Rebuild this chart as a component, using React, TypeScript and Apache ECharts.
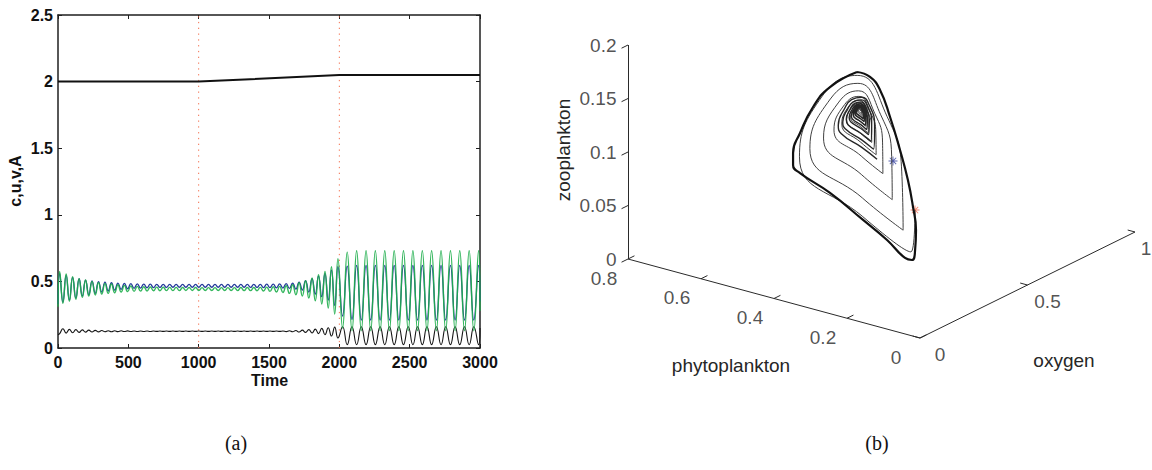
import React, { useEffect, useRef } from "react";
import * as echarts from "echarts";

// ---------------- Panel (a): time series (extrema) ----------------
const extremaTimes = [
  0, 12, 35, 58, 81, 104, 127, 150, 173, 196, 219,
  242, 265, 288, 311, 334, 357, 380, 403, 426, 449,
  472, 495, 518, 541, 564, 587, 610, 633, 656, 679,
  702, 725, 748, 771, 794, 817, 840, 863, 886, 909,
  932, 955, 978, 1001, 1024, 1047, 1070, 1093, 1116, 1139,
  1162, 1185, 1208, 1231, 1254, 1277, 1300, 1323, 1346, 1369,
  1392, 1415, 1438, 1461, 1484, 1507, 1530, 1553, 1576, 1599,
  1622, 1645, 1668, 1691, 1714, 1737, 1760, 1783, 1806, 1829,
  1852, 1875, 1898, 1921, 1944, 1967, 1990,
  2023, 2056, 2090, 2123, 2156, 2190, 2223, 2256, 2290, 2323,
  2356, 2390, 2423, 2456, 2490, 2523, 2556, 2590, 2623, 2656,
  2690, 2723, 2756, 2790, 2823, 2856, 2890, 2923, 2956, 2990,
  3000,
];

// phytoplankton u (green)
const phytoU = [
  0.31, 0.575, 0.335, 0.555, 0.35, 0.535, 0.365, 0.52, 0.38, 0.51, 0.39,
  0.5, 0.398, 0.492, 0.405, 0.485, 0.41, 0.48, 0.415, 0.475, 0.42,
  0.47, 0.423, 0.466, 0.425, 0.463, 0.427, 0.46, 0.428, 0.458, 0.43,
  0.457, 0.43, 0.456, 0.431, 0.455, 0.431, 0.455, 0.431, 0.454, 0.432,
  0.454, 0.432, 0.454, 0.432, 0.453, 0.432, 0.453, 0.432, 0.453, 0.432,
  0.453, 0.432, 0.453, 0.432, 0.453, 0.431, 0.454, 0.431, 0.454, 0.431,
  0.454, 0.43, 0.455, 0.428, 0.457, 0.425, 0.46, 0.42, 0.463, 0.417,
  0.467, 0.41, 0.475, 0.4, 0.49, 0.39, 0.505, 0.375, 0.525, 0.355,
  0.55, 0.33, 0.575, 0.3, 0.61, 0.255, 0.67,
  0.15, 0.72, 0.13, 0.73, 0.13, 0.73, 0.13, 0.73, 0.13, 0.73,
  0.13, 0.73, 0.13, 0.73, 0.13, 0.73, 0.13, 0.73, 0.13, 0.73,
  0.13, 0.73, 0.13, 0.73, 0.13, 0.73, 0.13, 0.73, 0.13, 0.73,
  0.28,
];

// oxygen c (blue)
const oxygenC = [
  0.33, 0.56, 0.345, 0.545, 0.36, 0.53, 0.375, 0.52, 0.39, 0.51, 0.4,
  0.503, 0.41, 0.498, 0.42, 0.494, 0.428, 0.49, 0.434, 0.487, 0.44,
  0.485, 0.445, 0.483, 0.448, 0.482, 0.45, 0.48, 0.452, 0.479, 0.454,
  0.478, 0.455, 0.478, 0.455, 0.477, 0.456, 0.477, 0.456, 0.477, 0.456,
  0.477, 0.456, 0.477, 0.456, 0.477, 0.456, 0.477, 0.456, 0.477, 0.456,
  0.477, 0.456, 0.477, 0.456, 0.477, 0.456, 0.477, 0.456, 0.477, 0.455,
  0.478, 0.455, 0.478, 0.454, 0.479, 0.453, 0.48, 0.452, 0.481, 0.45,
  0.483, 0.447, 0.487, 0.442, 0.495, 0.435, 0.505, 0.42, 0.52, 0.405,
  0.54, 0.385, 0.56, 0.36, 0.585, 0.32, 0.61,
  0.24, 0.615, 0.215, 0.62, 0.21, 0.62, 0.21, 0.62, 0.21, 0.62,
  0.21, 0.62, 0.21, 0.62, 0.21, 0.62, 0.21, 0.62, 0.21, 0.62,
  0.21, 0.62, 0.21, 0.62, 0.21, 0.62, 0.21, 0.62, 0.21, 0.62,
  0.35,
];

// zooplankton v (black)
const zooV = [
  0.1, 0.108, 0.145, 0.112, 0.14, 0.115, 0.138, 0.117, 0.136, 0.119, 0.134,
  0.12, 0.132, 0.121, 0.131, 0.122, 0.13, 0.1225, 0.1295, 0.123, 0.129,
  0.1235, 0.1285, 0.124, 0.128, 0.124, 0.128, 0.1242, 0.1278, 0.1244, 0.1276,
  0.1245, 0.1275, 0.1245, 0.1275, 0.1245, 0.1275, 0.1245, 0.1275, 0.1245, 0.1275,
  0.1245, 0.1275, 0.1245, 0.1275, 0.1245, 0.1275, 0.1245, 0.1275, 0.1245, 0.1275,
  0.1245, 0.1275, 0.1245, 0.1275, 0.1245, 0.1275, 0.1245, 0.1275, 0.1245, 0.1275,
  0.1245, 0.1275, 0.1245, 0.1275, 0.1245, 0.1275, 0.1245, 0.1275, 0.1245, 0.1275,
  0.123, 0.129, 0.122, 0.131, 0.12, 0.134, 0.117, 0.138, 0.113, 0.142,
  0.108, 0.147, 0.1, 0.152, 0.09, 0.157, 0.075,
  0.16, 0.025, 0.16, 0.025, 0.16, 0.025, 0.16, 0.025, 0.16, 0.025,
  0.16, 0.025, 0.16, 0.025, 0.16, 0.025, 0.16, 0.025, 0.16, 0.025,
  0.16, 0.025, 0.16, 0.025, 0.16, 0.025, 0.16, 0.025, 0.16, 0.025,
  0.15,
];

// parameter A
const aTimes = [0, 1000, 2000, 3000];
const aValues = [2.0, 2.0, 2.05, 2.05];
const switchTimes = [1000, 2000];

// ---------------- Panel (b): 3-D phase portrait ----------------
const phytoTicks = [0, 0.2, 0.4, 0.6, 0.8];
const oxygenTicks = [0, 0.5, 1];
const zooTicks = [0, 0.05, 0.1, 0.15, 0.2];

// outer (thick) loop
const outerPhyto = [0.45, 0.395, 0.3525, 0.31, 0.268, 0.234, 0.2127, 0.2, 0.204, 0.217, 0.2466, 0.323, 0.4246, 0.5644, 0.6915, 0.7212, 0.7212, 0.6915, 0.6364, 0.5644, 0.45];
const outerOxygen = [0.471, 0.438, 0.4125, 0.387, 0.362, 0.341, 0.3286, 0.321, 0.3236, 0.331, 0.349, 0.395, 0.456, 0.5396, 0.616, 0.634, 0.634, 0.616, 0.583, 0.5396, 0.471];
const outerZoo = [0.1604, 0.1641, 0.1584, 0.1396, 0.1151, 0.0922, 0.0703, 0.0507, 0.0314, 0.0201, 0.0175, 0.0227, 0.026, 0.03, 0.0293, 0.0323, 0.0436, 0.0667, 0.0994, 0.129, 0.1604];

// thin spiral converging to the focus
const spiralPhyto = [
  0.2042,
  0.2214, 0.4254, 0.6937, 0.5968, 0.449, 0.3227, 0.2604,
  0.2544, 0.4274, 0.6495, 0.5628, 0.4462, 0.3494, 0.303,
  0.3006, 0.4299, 0.5916, 0.5271, 0.4436, 0.3748, 0.3416,
  0.3402, 0.432, 0.5474, 0.5016, 0.4417, 0.3926, 0.37,
  0.3688, 0.4335, 0.5143, 0.4829, 0.4404, 0.4053, 0.3883,
  0.3875, 0.4344, 0.4936, 0.4702, 0.4394, 0.4141, 0.4025,
  0.4018, 0.4352, 0.477, 0.4605, 0.4387, 0.4209, 0.4126,
  0.4121, 0.4357, 0.4654, 0.4537, 0.4382, 0.4256, 0.4195,
  0.4194, 0.4361, 0.4569, 0.4487, 0.4379, 0.429, 0.4248,
  0.4247, 0.4364, 0.4508, 0.4452, 0.4376, 0.4314, 0.4285,
  0.4284, 0.4366, 0.4467, 0.4426, 0.4374, 0.4332, 0.4313,
  0.4313, 0.4367, 0.4431, 0.4404, 0.4372, 0.435, 0.4342,
  0.437,
];
const spiralOxygen = [
  0.3235,
  0.3336, 0.456, 0.617, 0.5589, 0.4702, 0.3944, 0.357,
  0.3534, 0.4572, 0.5905, 0.5385, 0.4685, 0.4104, 0.3826,
  0.3812, 0.4588, 0.5557, 0.5171, 0.467, 0.4257, 0.4058,
  0.4049, 0.46, 0.5292, 0.5018, 0.4658, 0.4363, 0.4228,
  0.4221, 0.4609, 0.5094, 0.4905, 0.465, 0.4439, 0.4338,
  0.4333, 0.4615, 0.4969, 0.4829, 0.4644, 0.4493, 0.4423,
  0.4419, 0.4619, 0.487, 0.4771, 0.464, 0.4533, 0.4484,
  0.4481, 0.4622, 0.4801, 0.473, 0.4637, 0.4561, 0.4525,
  0.4524, 0.4625, 0.4749, 0.47, 0.4635, 0.4582, 0.4557,
  0.4556, 0.4626, 0.4713, 0.4679, 0.4634, 0.4596, 0.4579,
  0.4579, 0.4627, 0.4688, 0.4664, 0.4632, 0.4607, 0.4596,
  0.4596, 0.4628, 0.4666, 0.465, 0.4631, 0.4618, 0.4613,
  0.463,
];
const spiralZoo = [
  0.0687,
  0.027, 0.029, 0.0442, 0.1157, 0.1574, 0.1383, 0.0966,
  0.0423, 0.0462, 0.0585, 0.1181, 0.1504, 0.1357, 0.1039,
  0.0638, 0.0674, 0.0772, 0.1206, 0.1438, 0.1332, 0.1106,
  0.0821, 0.0846, 0.0914, 0.1224, 0.1389, 0.1314, 0.1155,
  0.0954, 0.0972, 0.1021, 0.1238, 0.1356, 0.1302, 0.1186,
  0.1041, 0.1053, 0.1088, 0.1247, 0.1331, 0.1293, 0.1211,
  0.1107, 0.1117, 0.1141, 0.1253, 0.1314, 0.1286, 0.1228,
  0.1155, 0.1161, 0.1178, 0.1258, 0.1301, 0.1281, 0.124,
  0.1188, 0.1193, 0.1206, 0.1262, 0.1292, 0.1278, 0.1249,
  0.1213, 0.1217, 0.1226, 0.1264, 0.1285, 0.1276, 0.1255,
  0.123, 0.1233, 0.1239, 0.1266, 0.128, 0.1274, 0.126,
  0.1244, 0.1246, 0.125, 0.1268, 0.1276, 0.1272, 0.1265,
  0.127,
];

// dense rounded loops of the dark core around the focus
const corePhyto = [
  0.365, 0.4298, 0.5163, 0.5292, 0.5018, 0.473, 0.4298, 0.3967, 0.3751,
  0.3798, 0.4313, 0.4999, 0.5102, 0.4885, 0.4656, 0.4313, 0.405, 0.3878,
  0.3914, 0.4324, 0.4871, 0.4953, 0.478, 0.4598, 0.4324, 0.4115, 0.3978,
  0.401, 0.4334, 0.4766, 0.4831, 0.4694, 0.455, 0.4334, 0.4168, 0.406,
  0.4084, 0.4341, 0.4685, 0.4736, 0.4627, 0.4513, 0.4341, 0.421, 0.4124,
  0.4148, 0.4348, 0.4615, 0.4655, 0.457, 0.4481, 0.4348, 0.4246, 0.4179,
  0.4201, 0.4353, 0.4557, 0.4587, 0.4523, 0.4455, 0.4353, 0.4275, 0.4224,
  0.4243, 0.4357, 0.451, 0.4533, 0.4484, 0.4434, 0.4357, 0.4299, 0.4261,
];
const coreOxygen = [
  0.4198, 0.4587, 0.5106, 0.5183, 0.5019, 0.4846, 0.4587, 0.4388, 0.4258,
  0.4287, 0.4596, 0.5008, 0.5069, 0.4939, 0.4802, 0.4596, 0.4438, 0.4335,
  0.4357, 0.4603, 0.4931, 0.498, 0.4876, 0.4767, 0.4603, 0.4477, 0.4395,
  0.4414, 0.4608, 0.4868, 0.4907, 0.4825, 0.4738, 0.4608, 0.4509, 0.4444,
  0.4458, 0.4613, 0.4819, 0.485, 0.4785, 0.4716, 0.4613, 0.4534, 0.4482,
  0.4497, 0.4617, 0.4777, 0.4801, 0.475, 0.4697, 0.4617, 0.4555, 0.4515,
  0.4528, 0.462, 0.4742, 0.476, 0.4722, 0.4681, 0.462, 0.4573, 0.4543,
  0.4554, 0.4622, 0.4714, 0.4728, 0.4699, 0.4668, 0.4622, 0.4587, 0.4564,
];
const coreZoo = [
  0.0918, 0.0931, 0.0927, 0.0987, 0.1187, 0.1311, 0.1399, 0.1369, 0.1221,
  0.0991, 0.1001, 0.0998, 0.1045, 0.1204, 0.1302, 0.1372, 0.1349, 0.1231,
  0.1048, 0.1056, 0.1053, 0.1091, 0.1218, 0.1296, 0.1351, 0.1333, 0.1239,
  0.1094, 0.1101, 0.1099, 0.1129, 0.1229, 0.129, 0.1334, 0.132, 0.1246,
  0.113, 0.1136, 0.1134, 0.1158, 0.1237, 0.1286, 0.1321, 0.1309, 0.1251,
  0.1161, 0.1165, 0.1164, 0.1183, 0.1245, 0.1283, 0.131, 0.1301, 0.1255,
  0.1187, 0.119, 0.1189, 0.1203, 0.1251, 0.128, 0.13, 0.1293, 0.1259,
  0.1208, 0.121, 0.121, 0.122, 0.1255, 0.1277, 0.1293, 0.1288, 0.1261,
];

// start markers [phyto, oxygen, zoo]
const blueStar = [0.2975, 0.3795, 0.1004];
const redStar = [0.2042, 0.3235, 0.0687];

// ---------------- helpers ----------------
const SANS = "'Liberation Sans', Arial, Helvetica, sans-serif";
const SERIF = "'Liberation Serif', 'Times New Roman', serif";

// orthographic projection of (phyto, oxygen, zoo) onto the panel-(b) plane
const project = (u: number, c: number, v: number): number[] => [
  -365 * u + 215 * c,
  98.75 * u + 106 * c + 1070 * v,
];

const STAR =
  "path://M-1,-10L1,-10L1,10L-1,10Z M-10,-1L10,-1L10,1L-10,1Z M-7.78,-6.36L-6.36,-7.78L7.78,6.36L6.36,7.78Z M-7.78,6.36L6.36,-7.78L7.78,-6.36L-6.36,7.78Z";

export default function App() {
  const ref = useRef<HTMLDivElement>(null);

  useEffect(() => {
    if (!ref.current) return;
    const chart = echarts.init(ref.current, undefined, { renderer: "svg" });

    const axisColor = "#1f1f1f";
    const boldLabel = {
      fontFamily: SANS,
      fontWeight: "bold" as const,
      fontSize: 16,
      color: "#111",
    };

    const tsData = (vals: number[]) => extremaTimes.map((t, i) => [t, vals[i]]);

    const axisSegments = [
      { coords: [project(0.8, 0, 0), project(0, 0, 0)] },
      { coords: [project(0, 0, 0), project(0, 1, 0)] },
      { coords: [project(0.8, 0, 0), project(0.8, 0, 0.2)] },
    ];
    const tickSegments = [
      ...phytoTicks.map((p) => ({ coords: [project(p, 0, 0), project(p, 0.03, 0)] })),
      ...oxygenTicks.map((o) => ({ coords: [project(0, o, 0), project(0.02, o, 0)] })),
      ...zooTicks.map((z) => ({ coords: [project(0.8, 0, z), project(0.8, -0.03, z)] })),
    ];

    const labelBase = {
      show: true,
      fontFamily: SANS,
      fontSize: 19,
      lineHeight: 14,
      color: "#262626",
    };

    const option: any = {
      animation: false,
      backgroundColor: "#ffffff",
      textStyle: { fontFamily: SANS },
      grid: [
        { left: 58, top: 15, width: 422, height: 333, containLabel: false, outerBoundsMode: "none" },
        { left: 560, top: 20, width: 592, height: 350, containLabel: false, outerBoundsMode: "none" },
      ],
      xAxis: [
        {
          type: "value",
          gridIndex: 0,
          position: "bottom",
          min: 0,
          max: 3000,
          interval: 500,
          axisLine: { show: true, onZero: false, lineStyle: { color: axisColor, width: 1.5 } },
          axisTick: { show: true, inside: true, length: 4, lineStyle: { color: axisColor } },
          axisLabel: { ...boldLabel, margin: 6, formatter: (v: number) => String(v) },
          splitLine: { show: false },
        },
        {
          type: "value",
          gridIndex: 0,
          position: "top",
          min: 0,
          max: 3000,
          interval: 500,
          axisLine: { show: true, onZero: false, lineStyle: { color: axisColor, width: 1.5 } },
          axisTick: { show: true, inside: true, length: 4, lineStyle: { color: axisColor } },
          axisLabel: { show: false },
          splitLine: { show: false },
        },
        { type: "value", gridIndex: 1, min: -360, max: 232, show: false },
      ],
      yAxis: [
        {
          type: "value",
          gridIndex: 0,
          position: "left",
          min: 0,
          max: 2.5,
          interval: 0.5,
          axisLine: { show: true, onZero: false, lineStyle: { color: axisColor, width: 1.5 } },
          axisTick: { show: true, inside: true, length: 4, lineStyle: { color: axisColor } },
          axisLabel: { ...boldLabel, margin: 5, formatter: (v: number) => String(v) },
          splitLine: { show: false },
        },
        {
          type: "value",
          gridIndex: 0,
          position: "right",
          min: 0,
          max: 2.5,
          interval: 0.5,
          axisLine: { show: true, onZero: false, lineStyle: { color: axisColor, width: 1.5 } },
          axisTick: { show: true, inside: true, length: 4, lineStyle: { color: axisColor } },
          axisLabel: { show: false },
          splitLine: { show: false },
        },
        { type: "value", gridIndex: 1, min: -32, max: 318, show: false },
      ],
      series: [
        // ---- panel (a)
        ...switchTimes.map((t) => ({
          type: "line",
          xAxisIndex: 0,
          yAxisIndex: 0,
          data: [
            [t, 0],
            [t, 2.5],
          ],
          symbol: "none",
          lineStyle: { color: "#f4704f", width: 1, type: [1.3, 4.5] },
          silent: true,
        })),
        {
          name: "A",
          type: "line",
          xAxisIndex: 0,
          yAxisIndex: 0,
          data: aTimes.map((t, i) => [t, aValues[i]]),
          symbol: "none",
          lineStyle: { color: "#111", width: 2 },
        },
        {
          name: "zooplankton",
          type: "line",
          xAxisIndex: 0,
          yAxisIndex: 0,
          data: tsData(zooV),
          smooth: 0.5,
          symbol: "none",
          lineStyle: { color: "#151515", width: 1.1 },
        },
        {
          name: "oxygen",
          type: "line",
          xAxisIndex: 0,
          yAxisIndex: 0,
          data: tsData(oxygenC),
          smooth: 0.5,
          symbol: "none",
          lineStyle: { color: "#243a9a", width: 1.3 },
        },
        {
          name: "phytoplankton",
          type: "line",
          xAxisIndex: 0,
          yAxisIndex: 0,
          data: tsData(phytoU),
          smooth: 0.5,
          symbol: "none",
          lineStyle: { color: "#1fae4c", width: 1.4, opacity: 0.9 },
        },
        // ---- panel (b)
        {
          type: "lines",
          coordinateSystem: "cartesian2d",
          xAxisIndex: 2,
          yAxisIndex: 2,
          data: axisSegments,
          lineStyle: { color: "#2a2a2a", width: 1, opacity: 1 },
          silent: true,
        },
        {
          type: "lines",
          coordinateSystem: "cartesian2d",
          xAxisIndex: 2,
          yAxisIndex: 2,
          data: tickSegments,
          lineStyle: { color: "#2a2a2a", width: 1, opacity: 1 },
          silent: true,
        },
        {
          type: "scatter",
          xAxisIndex: 2,
          yAxisIndex: 2,
          symbolSize: 1,
          itemStyle: { color: "rgba(0,0,0,0)" },
          data: zooTicks.map((z) => ({ name: String(z), value: project(0.8, 0, z) })),
          label: { ...labelBase, position: "left", distance: 11, formatter: "{b}" },
          silent: true,
        },
        {
          type: "scatter",
          xAxisIndex: 2,
          yAxisIndex: 2,
          symbolSize: 1,
          itemStyle: { color: "rgba(0,0,0,0)" },
          data: phytoTicks.map((p) => ({ name: String(p), value: project(p, 0, 0) })),
          label: { ...labelBase, position: "inside", offset: [-24, 19], formatter: "{b}" },
          silent: true,
        },
        {
          type: "scatter",
          xAxisIndex: 2,
          yAxisIndex: 2,
          symbolSize: 1,
          itemStyle: { color: "rgba(0,0,0,0)" },
          data: oxygenTicks.map((o) => ({
            name: String(o),
            value: project(0, o, 0),
            label: { offset: o === 1 ? [11, 16] : [20, 16] },
          })),
          label: { ...labelBase, position: "inside", formatter: "{b}" },
          silent: true,
        },
        {
          name: "spiral",
          type: "line",
          xAxisIndex: 2,
          yAxisIndex: 2,
          data: spiralPhyto.map((u, i) => project(u, spiralOxygen[i], spiralZoo[i])),
          smooth: 0.5,
          symbol: "none",
          lineStyle: { color: "#404040", width: 1.0 },
        },
        {
          name: "core",
          type: "line",
          xAxisIndex: 2,
          yAxisIndex: 2,
          data: corePhyto.map((u, i) => project(u, coreOxygen[i], coreZoo[i])),
          smooth: 0.5,
          symbol: "none",
          lineStyle: { color: "#262626", width: 1.4 },
        },
        {
          name: "outer",
          type: "line",
          xAxisIndex: 2,
          yAxisIndex: 2,
          data: outerPhyto.map((u, i) => project(u, outerOxygen[i], outerZoo[i])),
          smooth: 0.5,
          symbol: "none",
          lineStyle: { color: "#111", width: 2.2 },
        },
        {
          type: "scatter",
          xAxisIndex: 2,
          yAxisIndex: 2,
          symbol: STAR,
          symbolSize: 9,
          data: [
            { value: project(blueStar[0], blueStar[1], blueStar[2]), itemStyle: { color: "#2d3a9c" } },
            { value: project(redStar[0], redStar[1], redStar[2]), itemStyle: { color: "#f26a4c" } },
          ],
        },
      ],
      graphic: [
        {
          type: "text",
          x: 15.5,
          y: 181,
          rotation: Math.PI / 2,
          style: { text: "c,u,v,A", font: `bold 16px ${SANS}`, fill: "#111", align: "center", verticalAlign: "middle" },
        },
        {
          type: "text",
          x: 269.5,
          y: 380,
          style: { text: "Time", font: `bold 16px ${SANS}`, fill: "#111", align: "center", verticalAlign: "middle" },
        },
        {
          type: "text",
          x: 563,
          y: 150,
          rotation: Math.PI / 2,
          style: { text: "zooplankton", font: `19px ${SANS}`, fill: "#262626", align: "center", verticalAlign: "middle" },
        },
        {
          type: "text",
          x: 731,
          y: 365,
          style: { text: "phytoplankton", font: `19px ${SANS}`, fill: "#262626", align: "center", verticalAlign: "middle" },
        },
        {
          type: "text",
          x: 1064,
          y: 360,
          style: { text: "oxygen", font: `19px ${SANS}`, fill: "#262626", align: "center", verticalAlign: "middle" },
        },
        {
          type: "text",
          x: 236,
          y: 443,
          style: { text: "(a)", font: `20px ${SERIF}`, fill: "#111", align: "center", verticalAlign: "middle" },
        },
        {
          type: "text",
          x: 877,
          y: 443,
          style: { text: "(b)", font: `20px ${SERIF}`, fill: "#111", align: "center", verticalAlign: "middle" },
        },
      ],
    };

    chart.setOption(option);
    return () => chart.dispose();
  }, []);

  return (
    <div
      ref={ref}
      style={{ position: "fixed", left: 0, top: 0, width: 1152, height: 470, background: "#fff" }}
    />
  );
}
